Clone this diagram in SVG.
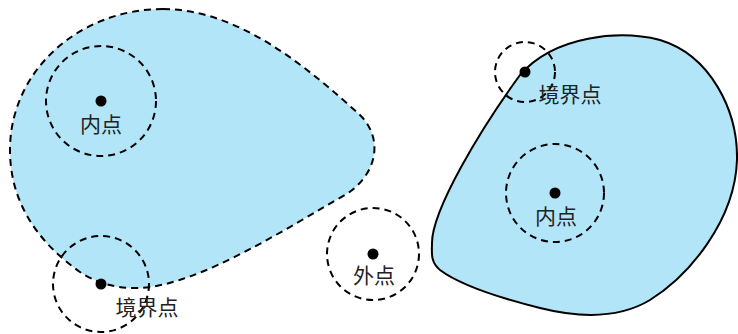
<svg xmlns="http://www.w3.org/2000/svg" width="738" height="334" viewBox="0 0 738 334">
<style>
.region{fill:#b3e5f8;stroke:#000;stroke-width:2}
.dashed{stroke-dasharray:7 5}
.nbhd{fill:none;stroke:#000;stroke-width:2;stroke-dasharray:7 5}
.dot{fill:#000}
.lbl{font-family:"Noto Sans CJK SC","Noto Sans CJK JP",sans-serif;font-size:21px;fill:#222;text-anchor:middle}
</style>
<g id="region-open">
<path class="region dashed" d="M163,9 C240,9 310,70 360,115 C385,140 376,176 345,195 C290,226 200,285 140,288 C115,289 95,282 80,272 C35,240 10,200 10,150 C10,70 80,9 163,9 Z"/>
</g>
<g id="region-closed">
<path class="region" d="M432,243 C432,210 480,130 520,75 C555,35 620,30 660,40 C710,55 738,110 737,160 C735,220 690,275 650,300 C620,318 580,318 540,308 C500,298 460,285 440,270 C430,262 432,252 432,243 Z"/>
</g>
<g id="left-interior">
<circle class="nbhd" cx="101" cy="101" r="55"/>
<circle class="dot" cx="101" cy="101" r="5.5"/>
<text class="lbl" x="101" y="132">内点</text>
</g>
<g id="left-boundary">
<circle class="nbhd" cx="101" cy="284" r="48"/>
<circle class="dot" cx="101" cy="284" r="5.5"/>
<text class="lbl" x="147" y="315">境界点</text>
</g>
<g id="exterior">
<circle class="nbhd" cx="373" cy="254" r="46"/>
<circle class="dot" cx="373" cy="254" r="5.5"/>
<text class="lbl" x="374" y="283">外点</text>
</g>
<g id="right-boundary">
<circle class="nbhd" cx="525" cy="72" r="30"/>
<circle class="dot" cx="525" cy="72" r="5.5"/>
<text class="lbl" x="570" y="102">境界点</text>
</g>
<g id="right-interior">
<circle class="nbhd" cx="555" cy="193" r="49"/>
<circle class="dot" cx="555" cy="193" r="5.5"/>
<text class="lbl" x="556" y="224">内点</text>
</g>
<g id="connectors"></g>
</svg>
